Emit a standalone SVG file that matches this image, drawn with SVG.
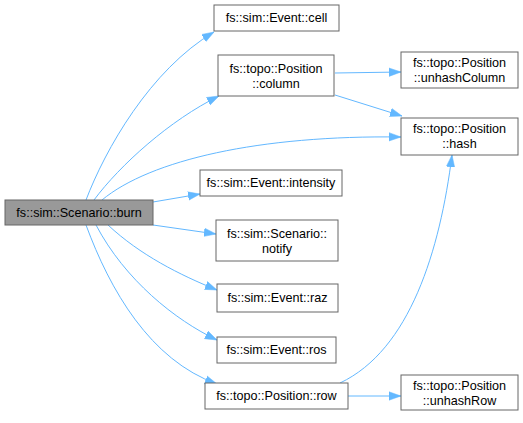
<svg xmlns="http://www.w3.org/2000/svg" width="523" height="423" viewBox="0 0 523 423">
<style>
.n rect{fill:#ffffff;stroke:#666666;stroke-width:1}
.n.cur rect{fill:#999999}
text{font-family:"Liberation Sans",Arial,sans-serif;font-size:12.6px;fill:#000000;text-anchor:middle}
.e path{fill:none;stroke:#63b8ff;stroke-width:1}
</style>
<defs>
<marker id="ah" viewBox="0 0 12 10" refX="12" refY="5" markerWidth="12" markerHeight="10" markerUnits="userSpaceOnUse" orient="auto">
<path d="M0,0.8 L12,5 L0,9.2 Z" fill="#63b8ff" stroke="#63b8ff" stroke-width="0.5"/>
</marker>
</defs>
<rect width="523" height="423" fill="#ffffff"/>
<g class="e">
<path marker-end="url(#ah)" d="M86,200 C105,150 150,70 214,32"/>
<path marker-end="url(#ah)" d="M94,200 C120,165 170,120 219,96"/>
<path marker-end="url(#ah)" d="M102,200 C150,160 260,135 401,137"/>
<path marker-end="url(#ah)" d="M153,202 L200,194"/>
<path marker-end="url(#ah)" d="M153,225 L216,234"/>
<path marker-end="url(#ah)" d="M108,225 C140,255 180,275 217,290"/>
<path marker-end="url(#ah)" d="M96,225 C125,280 175,320 217,340"/>
<path marker-end="url(#ah)" d="M86,225 C110,290 150,360 217,384"/>
<path marker-end="url(#ah)" d="M335,73 L401,72"/>
<path marker-end="url(#ah)" d="M335,95 L402,116"/>
<path marker-end="url(#ah)" d="M340,383 C410,350 440,250 452,155"/>
<path marker-end="url(#ah)" d="M348,396 L401,396"/>
</g>
<g id="burn" class="n cur"><rect x="5" y="200" width="148" height="25"/><text x="79" y="217">fs::sim::Scenario::burn</text></g>
<g id="cell" class="n"><rect x="214" y="5" width="125" height="26"/><text x="276.5" y="22">fs::sim::Event::cell</text></g>
<g id="column" class="n"><rect x="218" y="55" width="116" height="41"/><text x="276" y="73">fs::topo::Position</text><text x="276" y="88">::column</text></g>
<g id="unhashColumn" class="n"><rect x="401" y="52" width="117" height="36"/><text x="459.5" y="67">fs::topo::Position</text><text x="459.5" y="82">::unhashColumn</text></g>
<g id="hash" class="n"><rect x="401" y="118" width="117" height="37"/><text x="459.5" y="133">fs::topo::Position</text><text x="459.5" y="148">::hash</text></g>
<g id="intensity" class="n"><rect x="200" y="170" width="142" height="26"/><text x="271" y="187">fs::sim::Event::intensity</text></g>
<g id="notify" class="n"><rect x="216" y="220" width="122" height="41"/><text x="277" y="238">fs::sim::Scenario::</text><text x="277" y="253">notify</text></g>
<g id="raz" class="n"><rect x="217" y="284" width="121" height="28"/><text x="277.5" y="302">fs::sim::Event::raz</text></g>
<g id="ros" class="n"><rect x="217" y="337" width="119" height="26"/><text x="276.5" y="354">fs::sim::Event::ros</text></g>
<g id="row" class="n"><rect x="205" y="383" width="143" height="26"/><text x="276.5" y="400">fs::topo::Position::row</text></g>
<g id="unhashRow" class="n"><rect x="401" y="375" width="117" height="35"/><text x="459.5" y="390">fs::topo::Position</text><text x="459.5" y="405">::unhashRow</text></g>
</svg>
